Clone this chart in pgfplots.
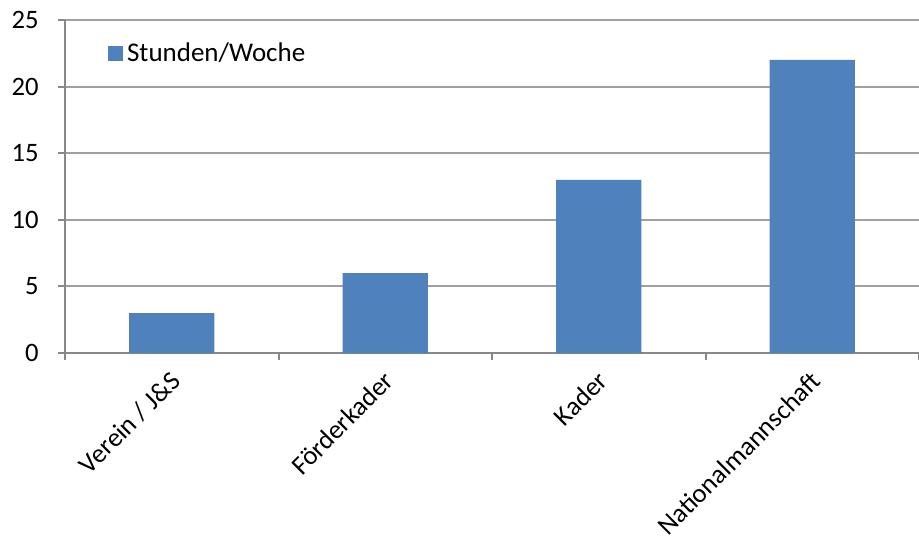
\documentclass[border=0pt]{standalone}
\usepackage{fontspec}
\setmainfont{Carlito}
\usepackage{pgfplots}
\pgfplotsset{compat=1.18}
\definecolor{barblue}{HTML}{4F81BD}
\definecolor{gridgray}{HTML}{A0A0A0}
\definecolor{axgray}{HTML}{888888}
\begin{document}
\fontsize{13.3bp}{16bp}\selectfont
\begin{tikzpicture}
\useasboundingbox (-32.5bp,-95bp) rectangle (427bp,176.5bp);
\begin{axis}[
  at={(0,0)}, anchor=south west,
  scale only axis,
  width=427bp, height=166.5bp,
  xmin=-0.5, xmax=3.5,
  ymin=0, ymax=25,
  ytick={0,5,10,15,20,25},
  xtick={-0.5,0.5,1.5,2.5,3.5},
  xticklabels={},
  extra x ticks={0,1,2,3},
  extra x tick labels={Verein / J\&S, Förderkader, Kader, Nationalmannschaft},
  extra x tick style={major tick length=0pt, xmajorgrids=false},
  axis lines=left,
  axis line style={-, axgray, line width=1bp},
  x axis line style={-},
  y axis line style={-},
  ymajorgrids,
  grid style={gridgray, line width=1bp},
  tick align=outside,
  tick style={axgray, line width=1bp},
  major tick length=3.5bp,
  xticklabel style={rotate=45, anchor=north east, font=\fontsize{13.3bp}{16bp}\selectfont, inner sep=0pt, xshift=-6.75bp, yshift=-4.75bp},
  yticklabel style={font=\fontsize{13.3bp}{16bp}\selectfont, inner sep=0pt, xshift=-9.5bp},
  /pgf/number format/assume math mode=true,
  legend style={at={(0.05,0.898)}, anchor=west, draw=none, fill=none, inner sep=0pt,
    font=\fontsize{13.5bp}{16bp}\selectfont, /tikz/every even column/.append style={column sep=0pt}},
  legend cell align=left,
  clip=false,
]
\addplot[ybar, bar width=0.4, fill=barblue, draw=none,
  legend image code/.code={\fill[barblue] (0bp,-3.75bp) rectangle (7.5bp,3.75bp);}]
  coordinates {(0,3) (1,6) (2,13) (3,22)};
\addlegendentry{Stunden/Woche}
\end{axis}
\end{tikzpicture}
\end{document}
